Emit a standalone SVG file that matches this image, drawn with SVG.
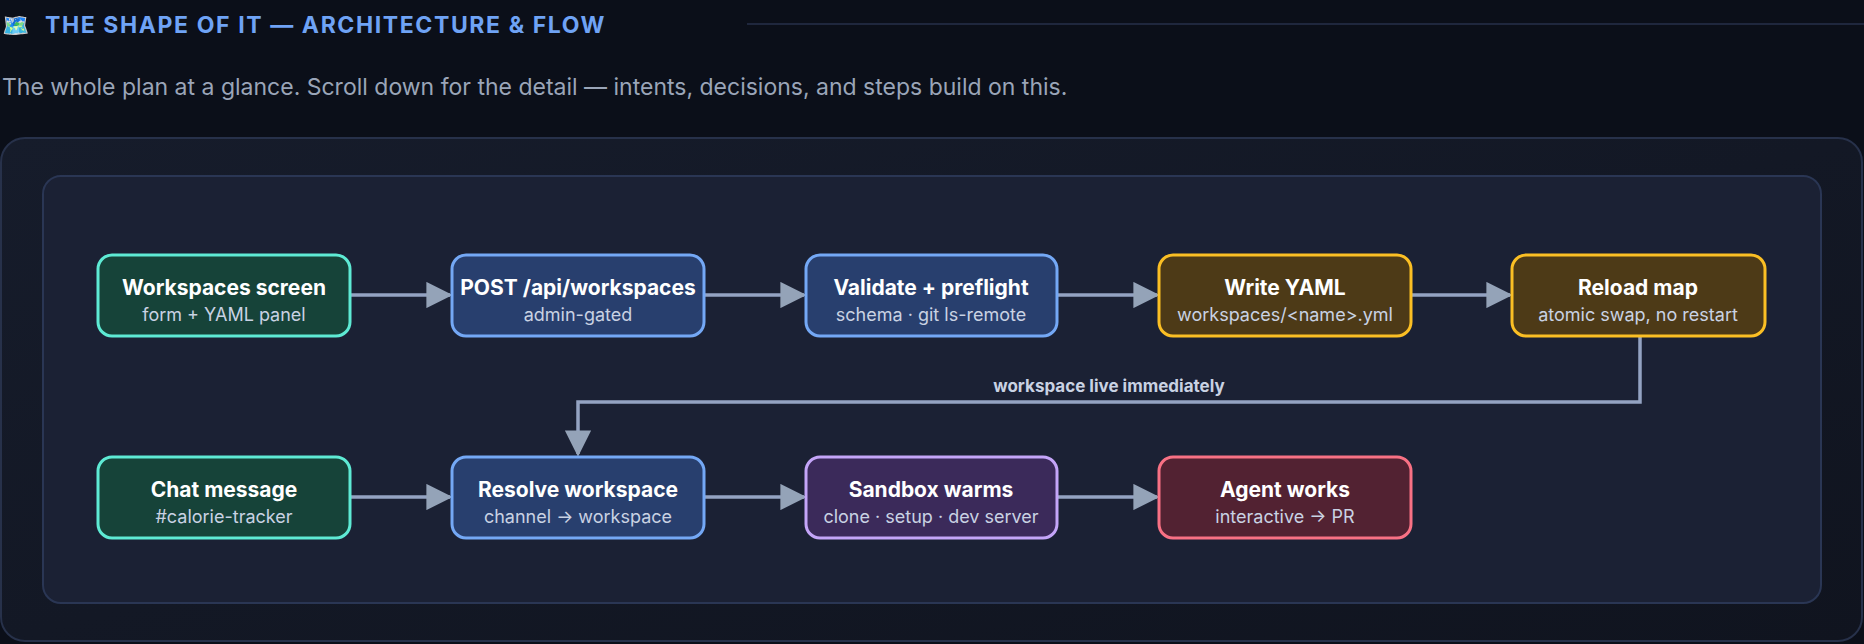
<svg xmlns="http://www.w3.org/2000/svg" width="1864" height="644" viewBox="0 0 1864 644">
<defs>
<style>
.t{font-family:Inter,"Liberation Sans",sans-serif;font-weight:700;font-size:21px;fill:#ffffff;text-anchor:middle}
.s{font-family:Inter,"Liberation Sans",sans-serif;font-size:18px;fill:#c9d2e3;text-anchor:middle}
.n rect{stroke-width:3}
.g rect{fill:#164339;stroke:#5eead4}
.b rect{fill:#283f6e;stroke:#74a8f5}
.y rect{fill:#4d3a17;stroke:#fbbf24}
.p rect{fill:#3b2a5a;stroke:#c4a5f8}
.r rect{fill:#522232;stroke:#f87184}
.c{stroke:#94a3c2;stroke-width:3.5;fill:none}
</style>
<marker id="ah" viewBox="0 0 10 10" refX="9" refY="5" markerWidth="7.5" markerHeight="7.5" markerUnits="strokeWidth" orient="auto"><path d="M0,0L10,5L0,10z" fill="#94a3b8"/></marker>
<linearGradient id="bg" x1="0" y1="0" x2="1" y2="1"><stop offset="0" stop-color="#161c2b"/><stop offset="1" stop-color="#10141f"/></linearGradient>
</defs>
<rect width="1864" height="644" fill="#0b0f19"/>
<text x="2" y="33" font-family="'Noto Color Emoji','Noto Sans',sans-serif" font-size="22">🗺️</text>
<text x="45" y="33" font-family="Inter,'Liberation Sans',sans-serif" font-weight="700" font-size="23" letter-spacing="1.6" fill="#6fa3f5">THE SHAPE OF IT — ARCHITECTURE &amp; FLOW</text>
<line x1="747" y1="24" x2="1864" y2="24" stroke="#27314a" stroke-width="1.5"/>
<text x="2" y="95" font-family="Inter,'Liberation Sans',sans-serif" font-size="23" fill="#9aa5b8">The whole plan at a glance. Scroll down for the detail — intents, decisions, and steps build on this.</text>
<rect x="1" y="138" width="1861" height="503" rx="24" fill="url(#bg)" stroke="#27314a" stroke-width="2"/>
<rect x="43" y="176" width="1778" height="427" rx="18" fill="#1b2134" stroke="#2a3654" stroke-width="2"/>
<g id="connectors">
<line class="c" x1="350" y1="295" x2="450" y2="295" marker-end="url(#ah)"/>
<line class="c" x1="704" y1="295" x2="804" y2="295" marker-end="url(#ah)"/>
<line class="c" x1="1057" y1="295" x2="1157" y2="295" marker-end="url(#ah)"/>
<line class="c" x1="1411" y1="295" x2="1510" y2="295" marker-end="url(#ah)"/>
<path class="c" d="M1640,336V402H578V454" marker-end="url(#ah)"/>
<text x="1109" y="392" font-family="Inter,'Liberation Sans',sans-serif" font-weight="700" font-size="17" fill="#c9d2e3" text-anchor="middle">workspace live immediately</text>
<line class="c" x1="350" y1="497" x2="450" y2="497" marker-end="url(#ah)"/>
<line class="c" x1="704" y1="497" x2="804" y2="497" marker-end="url(#ah)"/>
<line class="c" x1="1057" y1="497" x2="1157" y2="497" marker-end="url(#ah)"/>
</g>
<g id="n1" class="n g"><rect x="98" y="255" width="252" height="81" rx="14"/><text class="t" x="224" y="295">Workspaces screen</text><text class="s" x="224" y="321">form + YAML panel</text></g>
<g id="n2" class="n b"><rect x="452" y="255" width="252" height="81" rx="14"/><text class="t" x="578" y="295">POST /api/workspaces</text><text class="s" x="578" y="321">admin-gated</text></g>
<g id="n3" class="n b"><rect x="806" y="255" width="251" height="81" rx="14"/><text class="t" x="931" y="295">Validate + preflight</text><text class="s" x="931" y="321">schema · git ls-remote</text></g>
<g id="n4" class="n y"><rect x="1159" y="255" width="252" height="81" rx="14"/><text class="t" x="1285" y="295">Write YAML</text><text class="s" x="1285" y="321">workspaces/&lt;name&gt;.yml</text></g>
<g id="n5" class="n y"><rect x="1512" y="255" width="253" height="81" rx="14"/><text class="t" x="1638" y="295">Reload map</text><text class="s" x="1638" y="321">atomic swap, no restart</text></g>
<g id="n6" class="n g"><rect x="98" y="457" width="252" height="81" rx="14"/><text class="t" x="224" y="497">Chat message</text><text class="s" x="224" y="523">#calorie-tracker</text></g>
<g id="n7" class="n b"><rect x="452" y="457" width="252" height="81" rx="14"/><text class="t" x="578" y="497">Resolve workspace</text><text class="s" x="578" y="523">channel → workspace</text></g>
<g id="n8" class="n p"><rect x="806" y="457" width="251" height="81" rx="14"/><text class="t" x="931" y="497">Sandbox warms</text><text class="s" x="931" y="523">clone · setup · dev server</text></g>
<g id="n9" class="n r"><rect x="1159" y="457" width="252" height="81" rx="14"/><text class="t" x="1285" y="497">Agent works</text><text class="s" x="1285" y="523">interactive → PR</text></g>
</svg>
